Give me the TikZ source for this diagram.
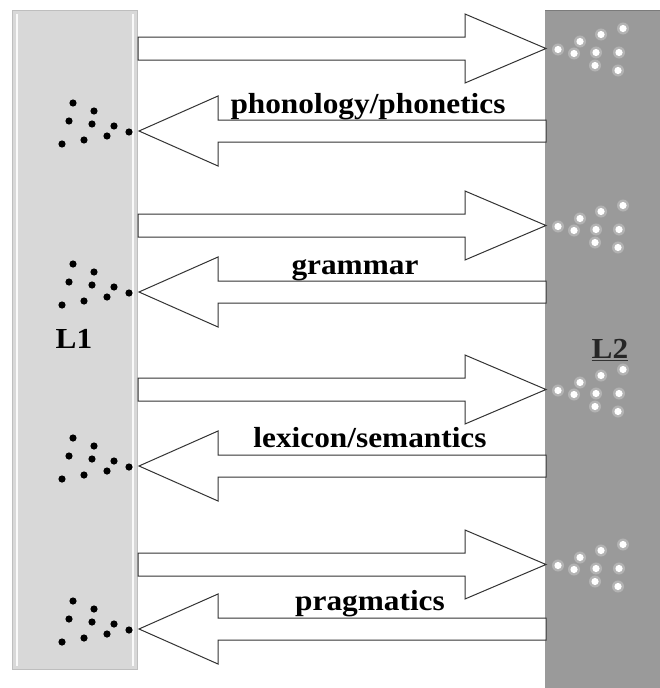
\documentclass[tikz,border=0pt]{standalone}
\usepackage{fontspec}
\usetikzlibrary{calc}
\setmainfont{Liberation Serif}[FakeStretch=1.08]
\definecolor{lbar}{HTML}{D8D8D8}
\definecolor{lbaredge}{HTML}{BEBEBE}
\definecolor{rbar}{HTML}{9A9A9A}
\definecolor{arrowline}{HTML}{333333}
\begin{document}
\begin{tikzpicture}[x=1pt,y=-1pt,
  blockarrow/.style={draw=arrowline,fill=white,line width=1pt,line join=miter},
  lab/.style={font=\bfseries\fontsize{29}{32}\selectfont,inner sep=0pt,anchor=base},
  barlabel/.style={font=\bfseries\fontsize{29}{32}\selectfont,inner sep=0pt},
  bdot/.style={fill=black},
  wdot/.style={fill=white},
  glow/.style={fill=white,opacity=0.25}]
\useasboundingbox (0,0) rectangle (660,688);
\fill[white] (0,0) rectangle (660,688);
% bars
\fill[lbar] (12,10) rectangle (138,670);
\draw[lbaredge,line width=1pt] (12.5,10.5) rectangle (137.5,669.5);
\draw[white!85!lbar,line width=2pt] (17,14) -- (17,666);
\draw[white!85!lbar,line width=2pt] (133,14) -- (133,666);
\fill[rbar] (545,10) rectangle (660,688);
\draw[rbar!80!black,line width=1pt] (545,10.5) -- (660,10.5);
% right-pointing arrows
\foreach \t in {48.5,225.5,389.5,564.5}{
  \draw[blockarrow] (138,\t-11.5) -- (465,\t-11.5) -- (465,\t-34.5) -- (546,\t)
     -- (465,\t+34.5) -- (465,\t+11.5) -- (138,\t+11.5) -- cycle;
}
% left-pointing arrows
\foreach \t in {131,292,466,629}{
  \draw[blockarrow] (546,\t-11) -- (218,\t-11) -- (218,\t-35) -- (139,\t)
     -- (218,\t+35) -- (218,\t+11) -- (546,\t+11) -- cycle;
}
% black dot clusters on L1
\foreach \t in {131,292,466,629}{
  \foreach \dx/\dy in {-66/-28,-45/-20,-70/-10,-47/-7,-25/-5,-10/1,-32/5,-55/9,-77/13}{
    \fill[bdot] (139+\dx,\t+\dy) circle (3.6);
  }
}
% white dot clusters on L2
\foreach \t in {48.5,225.5,389.5,564.5}{
  \foreach \dx/\dy in {77/-20,55/-14,34/-7,12/1,28/5,50/4,73/4,49/17,72/22}{
    \fill[glow] (546+\dx,\t+\dy) circle (6);
    \fill[wdot] (546+\dx,\t+\dy) circle (3.6);
  }
}
% labels
\node[lab] (t1) at (368,113) {phonology/phonetics};
\node[lab] (t2) at (355,274) {grammar};
\node[lab] (t3) at (370,447) {lexicon/semantics};
\node[lab] (t4) at (370,610) {pragmatics};
\node[barlabel] (l1) at (74,339) {L1};
\node[barlabel,text=black!85] (l2) at (610,349) {L2};
\draw[black!80,line width=1.2pt] ($(l2.south west)+(0,1.5)$) -- ($(l2.south east)+(0,1.5)$);
\end{tikzpicture}
\end{document}
